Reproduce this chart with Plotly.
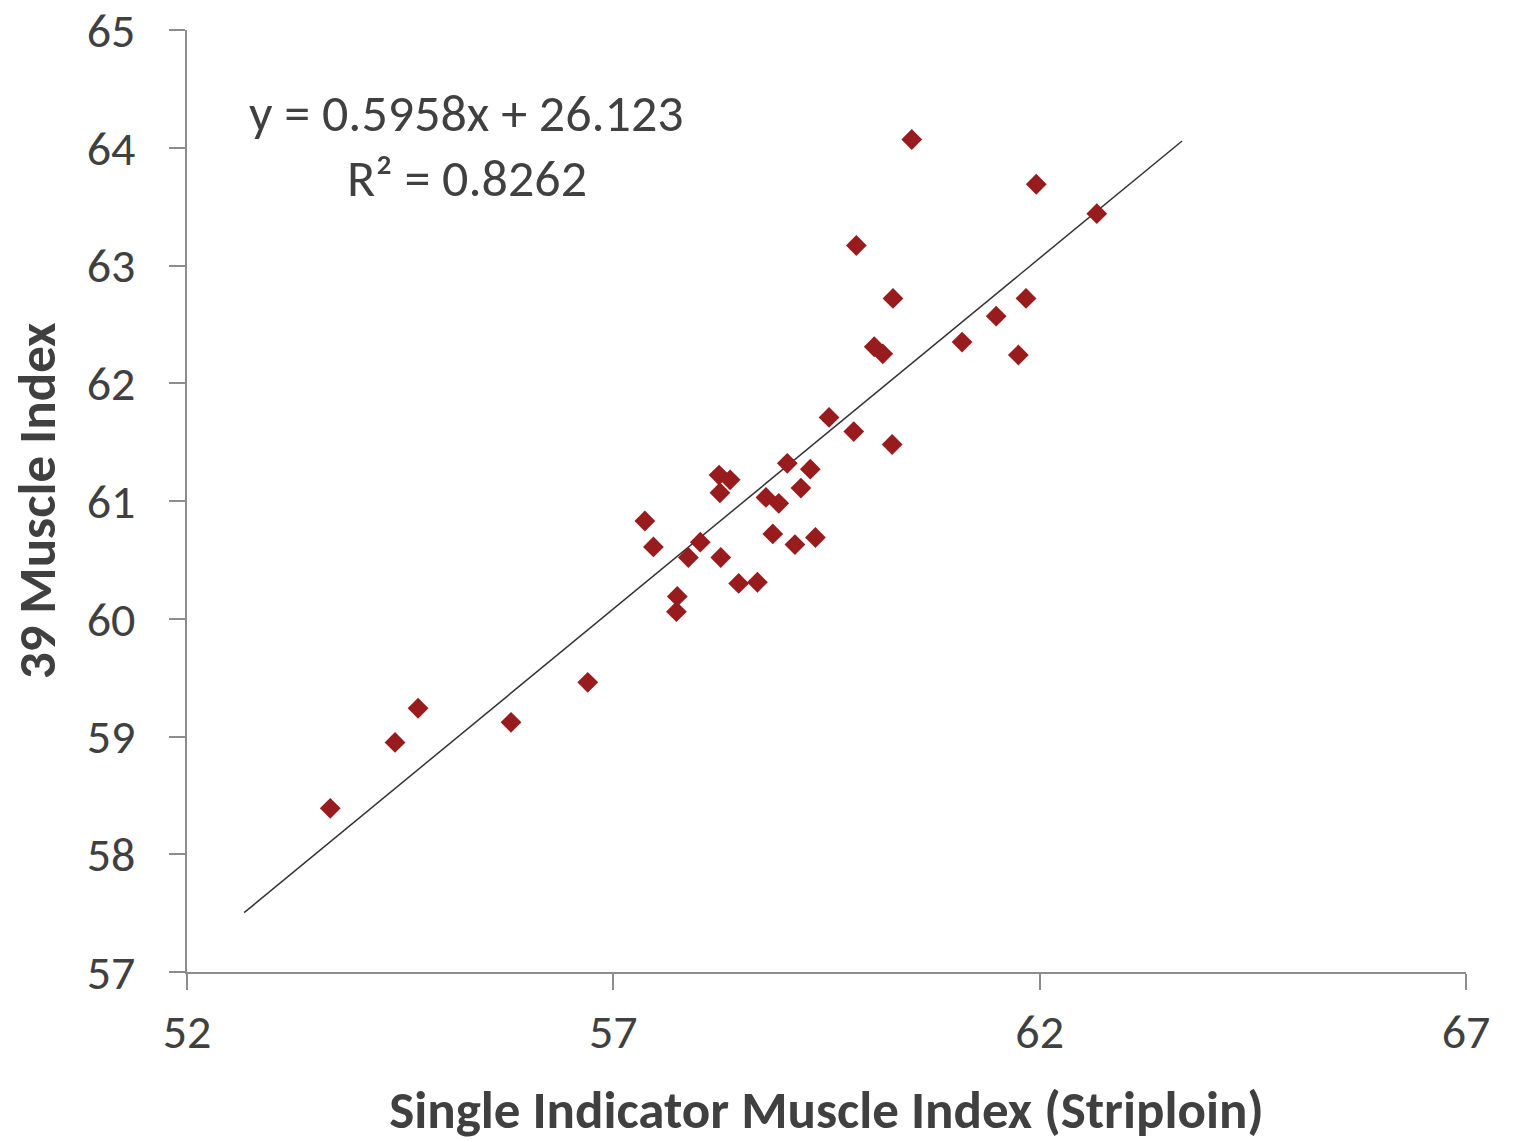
import plotly.graph_objects as go

x_vals = [53.68, 54.44, 54.71, 55.80, 56.70, 57.37, 57.47, 57.75, 57.74, 57.88,
          58.02, 58.24, 58.25, 58.37, 58.26, 58.47, 58.69, 58.79, 58.94, 58.87,
          59.04, 59.13, 59.20, 59.31, 59.37, 59.53, 59.82, 59.85, 60.06, 60.16,
          60.27, 60.28, 60.50, 61.09, 61.49, 61.75, 61.84, 61.96, 62.67]
y_vals = [58.39, 58.95, 59.24, 59.12, 59.46, 60.83, 60.61, 60.19, 60.06, 60.52,
          60.65, 61.22, 61.07, 61.18, 60.52, 60.30, 60.31, 61.03, 60.98, 60.72,
          61.32, 60.63, 61.11, 61.27, 60.69, 61.71, 61.59, 63.17, 62.31, 62.25,
          61.48, 62.72, 64.07, 62.35, 62.57, 62.24, 62.72, 63.69, 63.44]

slope = 0.5958
intercept = 26.123
r2 = 0.8262
trend_x = [52.67, 63.67]
trend_y = [slope * v + intercept for v in trend_x]

FONT = "Carlito, Lato, sans-serif"
TXT = "#404040"
AX = "#8c8c8c"

fig = go.Figure()
fig.add_trace(go.Scatter(x=trend_x, y=trend_y, mode="lines",
                         line=dict(color="#333333", width=1.5), hoverinfo="skip"))
fig.add_trace(go.Scatter(x=x_vals, y=y_vals, mode="markers",
                         marker=dict(symbol="diamond", size=16, color="#981B1E")))

fig.add_annotation(x=55.28, y=64.295, xref="x", yref="y", showarrow=False,
                   text=f"y = {slope}x + {intercept}", font=dict(family=FONT, size=52, color=TXT))
fig.add_annotation(x=55.28, y=63.743, xref="x", yref="y", showarrow=False,
                   text=f"R² = {r2}", font=dict(family=FONT, size=52, color=TXT))

fig.update_layout(
    width=1513, height=1142,
    margin=dict(l=187, r=47, t=30, b=170),
    paper_bgcolor="white", plot_bgcolor="white",
    showlegend=False,
    xaxis=dict(range=[52, 67], tick0=52, dtick=5, showgrid=False, zeroline=False,
               showline=True, linecolor=AX, linewidth=2, automargin=False,
               ticks="outside", ticklen=16, tickwidth=2, tickcolor=AX,
               ticklabeloverflow="allow",
               tickfont=dict(family=FONT, size=48, color=TXT),
               title=dict(text="<b>Single Indicator Muscle Index (Striploin)</b>",
                          font=dict(family=FONT, size=53, color=TXT), standoff=34)),
    yaxis=dict(range=[57, 65], tick0=57, dtick=1, showgrid=False, zeroline=False,
               showline=True, linecolor=AX, linewidth=2, automargin=False,
               ticks="outside", ticklen=16, tickwidth=2, tickcolor=AX,
               ticklabeloverflow="allow", ticklabelstandoff=24,
               tickfont=dict(family=FONT, size=48, color=TXT),
               title=dict(text="<b>39 Muscle Index</b>",
                          font=dict(family=FONT, size=53, color=TXT), standoff=14)),
)

fig.write_html("out.html", config={"displayModeBar": False},
               post_script="document.body.style.margin='0';document.body.style.overflow='hidden';")
